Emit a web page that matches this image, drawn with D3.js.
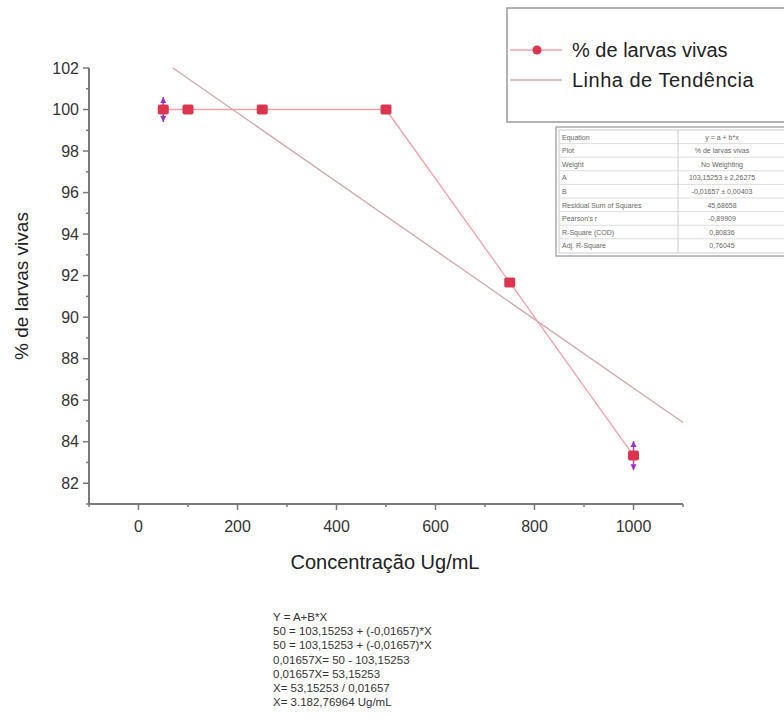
<!DOCTYPE html>
<html>
<head>
<meta charset="utf-8">
<script src="https://cdn.jsdelivr.net/npm/d3@7"></script>
<style>
  body { margin: 0; background: #fff; }
  svg { font-family: "Liberation Sans", Arial, sans-serif; }
</style>
</head>
<body>
<svg id="chart" width="784" height="722"></svg>
<script>
// data
const concentration = [50, 100, 250, 500, 750, 1000];
const survival = [100, 100, 100, 100, 91.67, 83.33];
const errUp = [0.6, 0, 0, 0, 0, 0.7];

const fitA = 103.15253;
const fitB = -0.01657;

const xTicks = [0, 200, 400, 600, 800, 1000];
const yTicks = [82, 84, 86, 88, 90, 92, 94, 96, 98, 100, 102];

const statLabels = ["Equation", "Plot", "Weight", "A", "B", "Residual Sum of Squares", "Pearson's r", "R-Square (COD)", "Adj. R-Square"];
const statValues = ["y = a + b*x", "% de larvas vivas", "No Weighting", "103,15253 ± 2,26275", "-0,01657 ± 0,00403", "45,68658", "-0,89909", "0,80836", "0,76045"];

const eqLines = [
  "Y = A+B*X",
  "50 = 103,15253 + (-0,01657)*X",
  "50 = 103,15253 + (-0,01657)*X",
  "0,01657X= 50 - 103,15253",
  "0,01657X= 53,15253",
  "X= 53,15253 / 0,01657",
  "X= 3.182,76964 Ug/mL"
];

const svg = d3.select("#chart");

const x = d3.scaleLinear().domain([-100, 1100]).range([89, 683]);
const y = d3.scaleLinear().domain([81, 102]).range([504, 68]);

const axisCol = "#7a7a7a";
const ptCol = "#dc3550";
const lineCol = "#f0a0a8";
const trendCol = "#d0a8a8";

// axes
const xAxis = svg.append("g").attr("transform", `translate(0,${y(81)})`);
xAxis.append("line").attr("x1", x(-100)).attr("x2", x(1100))
  .attr("stroke", axisCol).attr("stroke-width", 2);
xAxis.selectAll("line.minor").data(d3.range(-100, 1101, 200)).enter().append("line")
  .attr("x1", d => x(d)).attr("x2", d => x(d)).attr("y1", 0).attr("y2", 3)
  .attr("stroke", axisCol).attr("stroke-width", 1.5);
xAxis.selectAll("line.major").data(xTicks).enter().append("line")
  .attr("x1", d => x(d)).attr("x2", d => x(d)).attr("y1", 0).attr("y2", 6)
  .attr("stroke", axisCol).attr("stroke-width", 1.5);
xAxis.selectAll("text").data(xTicks).enter().append("text")
  .attr("x", d => x(d)).attr("y", 28).attr("text-anchor", "middle")
  .attr("font-size", 16).attr("fill", "#333").text(d => d);

const yAxis = svg.append("g").attr("transform", `translate(${x(-100)},0)`);
yAxis.append("line").attr("y1", y(81)).attr("y2", y(102))
  .attr("stroke", axisCol).attr("stroke-width", 2);
yAxis.selectAll("line.minor").data(d3.range(81, 102, 2)).enter().append("line")
  .attr("y1", d => y(d)).attr("y2", d => y(d)).attr("x1", 0).attr("x2", -3)
  .attr("stroke", axisCol).attr("stroke-width", 1.5);
yAxis.selectAll("line.major").data(yTicks).enter().append("line")
  .attr("y1", d => y(d)).attr("y2", d => y(d)).attr("x1", 0).attr("x2", -6)
  .attr("stroke", axisCol).attr("stroke-width", 1.5);
yAxis.selectAll("text").data(yTicks).enter().append("text")
  .attr("x", -10).attr("y", d => y(d)).attr("dy", "0.35em").attr("text-anchor", "end")
  .attr("font-size", 16).attr("fill", "#333").text(d => d);

svg.append("text").attr("x", 385).attr("y", 569).attr("text-anchor", "middle")
  .attr("font-size", 20).attr("fill", "#222").text("Concentração Ug/mL");
svg.append("text").attr("transform", "translate(28,286) rotate(-90)")
  .attr("text-anchor", "middle").attr("font-size", 19).attr("fill", "#222")
  .text("% de larvas vivas");

// trend line, clipped at the top of the y axis
const xStart = (102 - fitA) / fitB;
svg.append("line")
  .attr("x1", x(xStart)).attr("y1", y(fitA + fitB * xStart))
  .attr("x2", x(1100)).attr("y2", y(fitA + fitB * 1100))
  .attr("stroke", trendCol).attr("stroke-width", 1.3);

// data line
svg.append("path")
  .datum(concentration.map((c, i) => [c, survival[i]]))
  .attr("d", d3.line().x(d => x(d[0])).y(d => y(d[1])))
  .attr("fill", "none").attr("stroke", lineCol).attr("stroke-width", 1.3);

// error bars with arrow heads
const eb = svg.selectAll("g.err").data(concentration.map((c, i) => ({c, v: survival[i], e: errUp[i]})).filter(d => d.e > 0))
  .enter().append("g");
eb.append("line").attr("x1", d => x(d.c)).attr("x2", d => x(d.c))
  .attr("y1", d => y(d.v + d.e)).attr("y2", d => y(d.v - d.e))
  .attr("stroke", "#b040c0").attr("stroke-width", 1.5);
eb.append("path").attr("d", d => {
  const cx = x(d.c), t = y(d.v + d.e);
  return `M${cx - 3},${t + 6} L${cx},${t} L${cx + 3},${t + 6} Z`;
}).attr("fill", "#a030c0");
eb.append("path").attr("d", d => {
  const cx = x(d.c), b = y(d.v - d.e);
  return `M${cx - 3},${b - 6} L${cx},${b} L${cx + 3},${b - 6} Z`;
}).attr("fill", "#a030c0");

// markers
svg.selectAll("rect.pt").data(concentration).enter().append("rect")
  .attr("x", (d) => x(d) - 5.5).attr("y", (d, i) => y(survival[i]) - 5)
  .attr("width", 11).attr("height", 10).attr("rx", 2)
  .attr("fill", ptCol);

// legend
const leg = svg.append("g");
leg.append("rect").attr("x", 507).attr("y", 8).attr("width", 290).attr("height", 114)
  .attr("fill", "#fff").attr("stroke", "#999").attr("stroke-width", 1.5);
leg.append("line").attr("x1", 510).attr("x2", 562).attr("y1", 50).attr("y2", 50)
  .attr("stroke", lineCol).attr("stroke-width", 1.3);
leg.append("circle").attr("cx", 537).attr("cy", 50).attr("r", 4.5).attr("fill", ptCol);
leg.append("line").attr("x1", 510).attr("x2", 562).attr("y1", 80).attr("y2", 80)
  .attr("stroke", trendCol).attr("stroke-width", 1.3);
leg.append("text").attr("x", 572).attr("y", 57).attr("font-size", 20).attr("fill", "#222")
  .text("% de larvas vivas");
leg.append("text").attr("x", 572).attr("y", 87).attr("font-size", 20).attr("fill", "#222")
  .attr("letter-spacing", 0.5)
  .text("Linha de Tendência");

// fit statistics table
const tb = svg.append("g");
const tx0 = 556, ty0 = 127, rowH = 13.6, colSplit = 678;
tb.append("rect").attr("x", tx0).attr("y", ty0).attr("width", 240).attr("height", 129)
  .attr("fill", "#fff").attr("stroke", "#aaa").attr("stroke-width", 1.5);
tb.append("rect").attr("x", tx0 + 3).attr("y", ty0 + 3).attr("width", 240).attr("height", 123)
  .attr("fill", "none").attr("stroke", "#ccc").attr("stroke-width", 1);
tb.selectAll("line.row").data(d3.range(1, statLabels.length)).enter().append("line")
  .attr("x1", tx0 + 3).attr("x2", 784).attr("y1", d => ty0 + 3 + d * rowH).attr("y2", d => ty0 + 3 + d * rowH)
  .attr("stroke", "#ddd").attr("stroke-width", 1);
tb.append("line").attr("x1", colSplit).attr("x2", colSplit).attr("y1", ty0 + 3).attr("y2", ty0 + 126)
  .attr("stroke", "#ccc");
tb.selectAll("text.lab").data(statLabels).enter().append("text")
  .attr("x", tx0 + 6).attr("y", (d, i) => ty0 + 3 + i * rowH + 9.5)
  .attr("font-size", 7).attr("fill", "#666").text(d => d);
tb.selectAll("text.val").data(statValues).enter().append("text")
  .attr("x", 722).attr("y", (d, i) => ty0 + 3 + i * rowH + 9.5).attr("text-anchor", "middle")
  .attr("font-size", 7).attr("fill", "#666").text(d => d);

// equation worked out below the chart
svg.append("g").selectAll("text").data(eqLines).enter().append("text")
  .attr("x", 273).attr("y", (d, i) => 621 + i * 14.2)
  .attr("font-size", 11.5).attr("fill", "#333").text(d => d);
</script>
</body>
</html>
